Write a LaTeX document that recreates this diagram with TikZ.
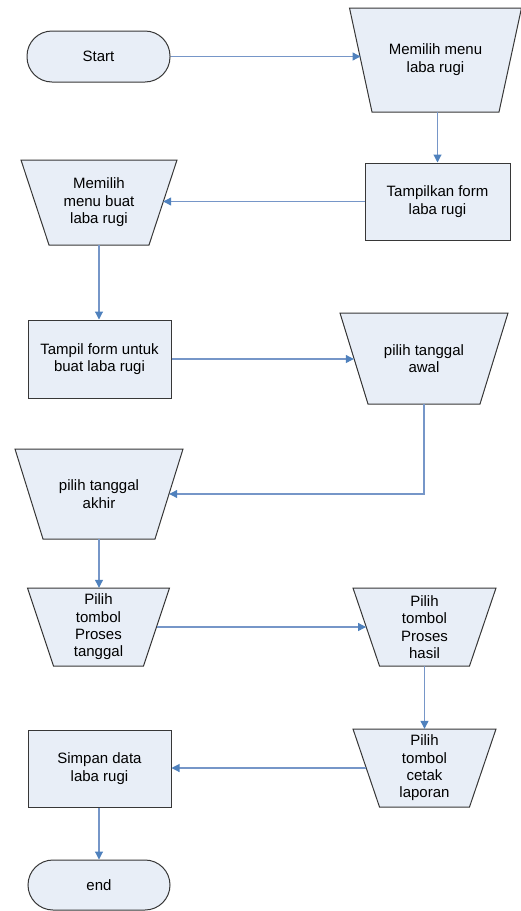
\documentclass[tikz,border=0pt]{standalone}
\usepackage{fontspec}
\setmainfont{Liberation Sans}
\usetikzlibrary{arrows.meta}
\definecolor{boxfill}{RGB}{232,238,247}
\definecolor{boxline}{RGB}{55,55,55}
\definecolor{flowc}{RGB}{118,150,200}
\definecolor{headc}{RGB}{79,129,189}
\tikzset{
  txt/.style={align=center, font=\fontsize{15}{17.4}\selectfont, inner sep=0pt},
  shapefill/.style={fill=boxfill, draw=boxline, line width=1pt, line join=miter},
  procbox/.style={txt, shapefill, minimum width=#1, rectangle},
  termbox/.style={txt, shapefill, rounded corners=25pt, minimum width=143pt, minimum height=51pt},
  trapbox/.style={txt, draw=none, fill=none, rectangle},
  flow/.style={draw=flowc, line width=1.1pt, -{Triangle[length=8pt,width=8pt,color=headc]}}
}
% name, cx, cy, mid width, height, quarter of width difference, text
\newcommand\trapnode[7]{%
  \path[shapefill] (#2-#4/2-#6, #3-#5/2) -- (#2+#4/2+#6, #3-#5/2)
     -- (#2+#4/2-#6, #3+#5/2) -- (#2-#4/2+#6, #3+#5/2) -- cycle;
  \node[trapbox, minimum width=#4pt, minimum height=#5pt] (#1) at (#2,#3) {};
  \node[txt] at (#2,#3) {#7};
}
\begin{document}
\begin{tikzpicture}[x=1pt, y=-1pt]
\useasboundingbox (0,0) rectangle (521,911);

\node[termbox] (start) at (98.5,56.5) {Start};
\trapnode{m1}{435.5}{60}{149.5}{104}{11.25}{\raisebox{4pt}{\begin{tabular}{@{}c@{}}Memilih menu\\laba rugi\end{tabular}}}
\node[procbox=145pt, minimum height=77pt] (t1) at (437.5,201.5) {Tampilkan form\\laba rugi};
\trapnode{m2}{99}{202.5}{128}{85}{14}{Memilih\\menu buat\\laba rugi}
\node[procbox=143pt, minimum height=78pt] (t2) at (99.5,359) {Tampil form untuk\\buat laba rugi};
\trapnode{p1}{424}{358.5}{140}{91}{14}{pilih tanggal\\awal}
\trapnode{p2}{99}{494}{140}{90}{14}{pilih tanggal\\akhir}
\trapnode{b1}{98.5}{627}{116}{78}{13}{Pilih\\tombol\\Proses\\tanggal}
\trapnode{b2}{424.5}{627}{116.5}{78}{13.25}{Pilih\\tombol\\Proses\\hasil}
\trapnode{b3}{424.5}{768}{116.5}{78}{13.25}{Pilih\\tombol\\cetak\\laporan}
\node[procbox=143pt, minimum height=77pt] (s1) at (99.5,768.5) {Simpan data\\laba rugi};
\node[termbox, minimum width=142pt, minimum height=50pt] (end) at (99,885) {end};

\draw[flow] (start.east) -- (start.east -| m1.west);
\draw[flow] (m1.south -| t1.north) -- (t1.north);
\draw[flow] (t1.west) -- (t1.west -| m2.east);
\draw[flow] (m2.south) -- (m2.south |- t2.north);
\draw[flow] (t2.east) -- (t2.east -| p1.west);
\draw[flow] (p1.south) |- (p2.east);
\draw[flow] (p2.south) -- (p2.south |- b1.north);
\draw[flow] (b1.east) -- (b1.east -| b2.west);
\draw[flow] (b2.south) -- (b3.north);
\draw[flow] (b3.west) -- (b3.west -| s1.east);
\draw[flow] (s1.south -| end.north) -- (end.north);
\end{tikzpicture}
\end{document}
